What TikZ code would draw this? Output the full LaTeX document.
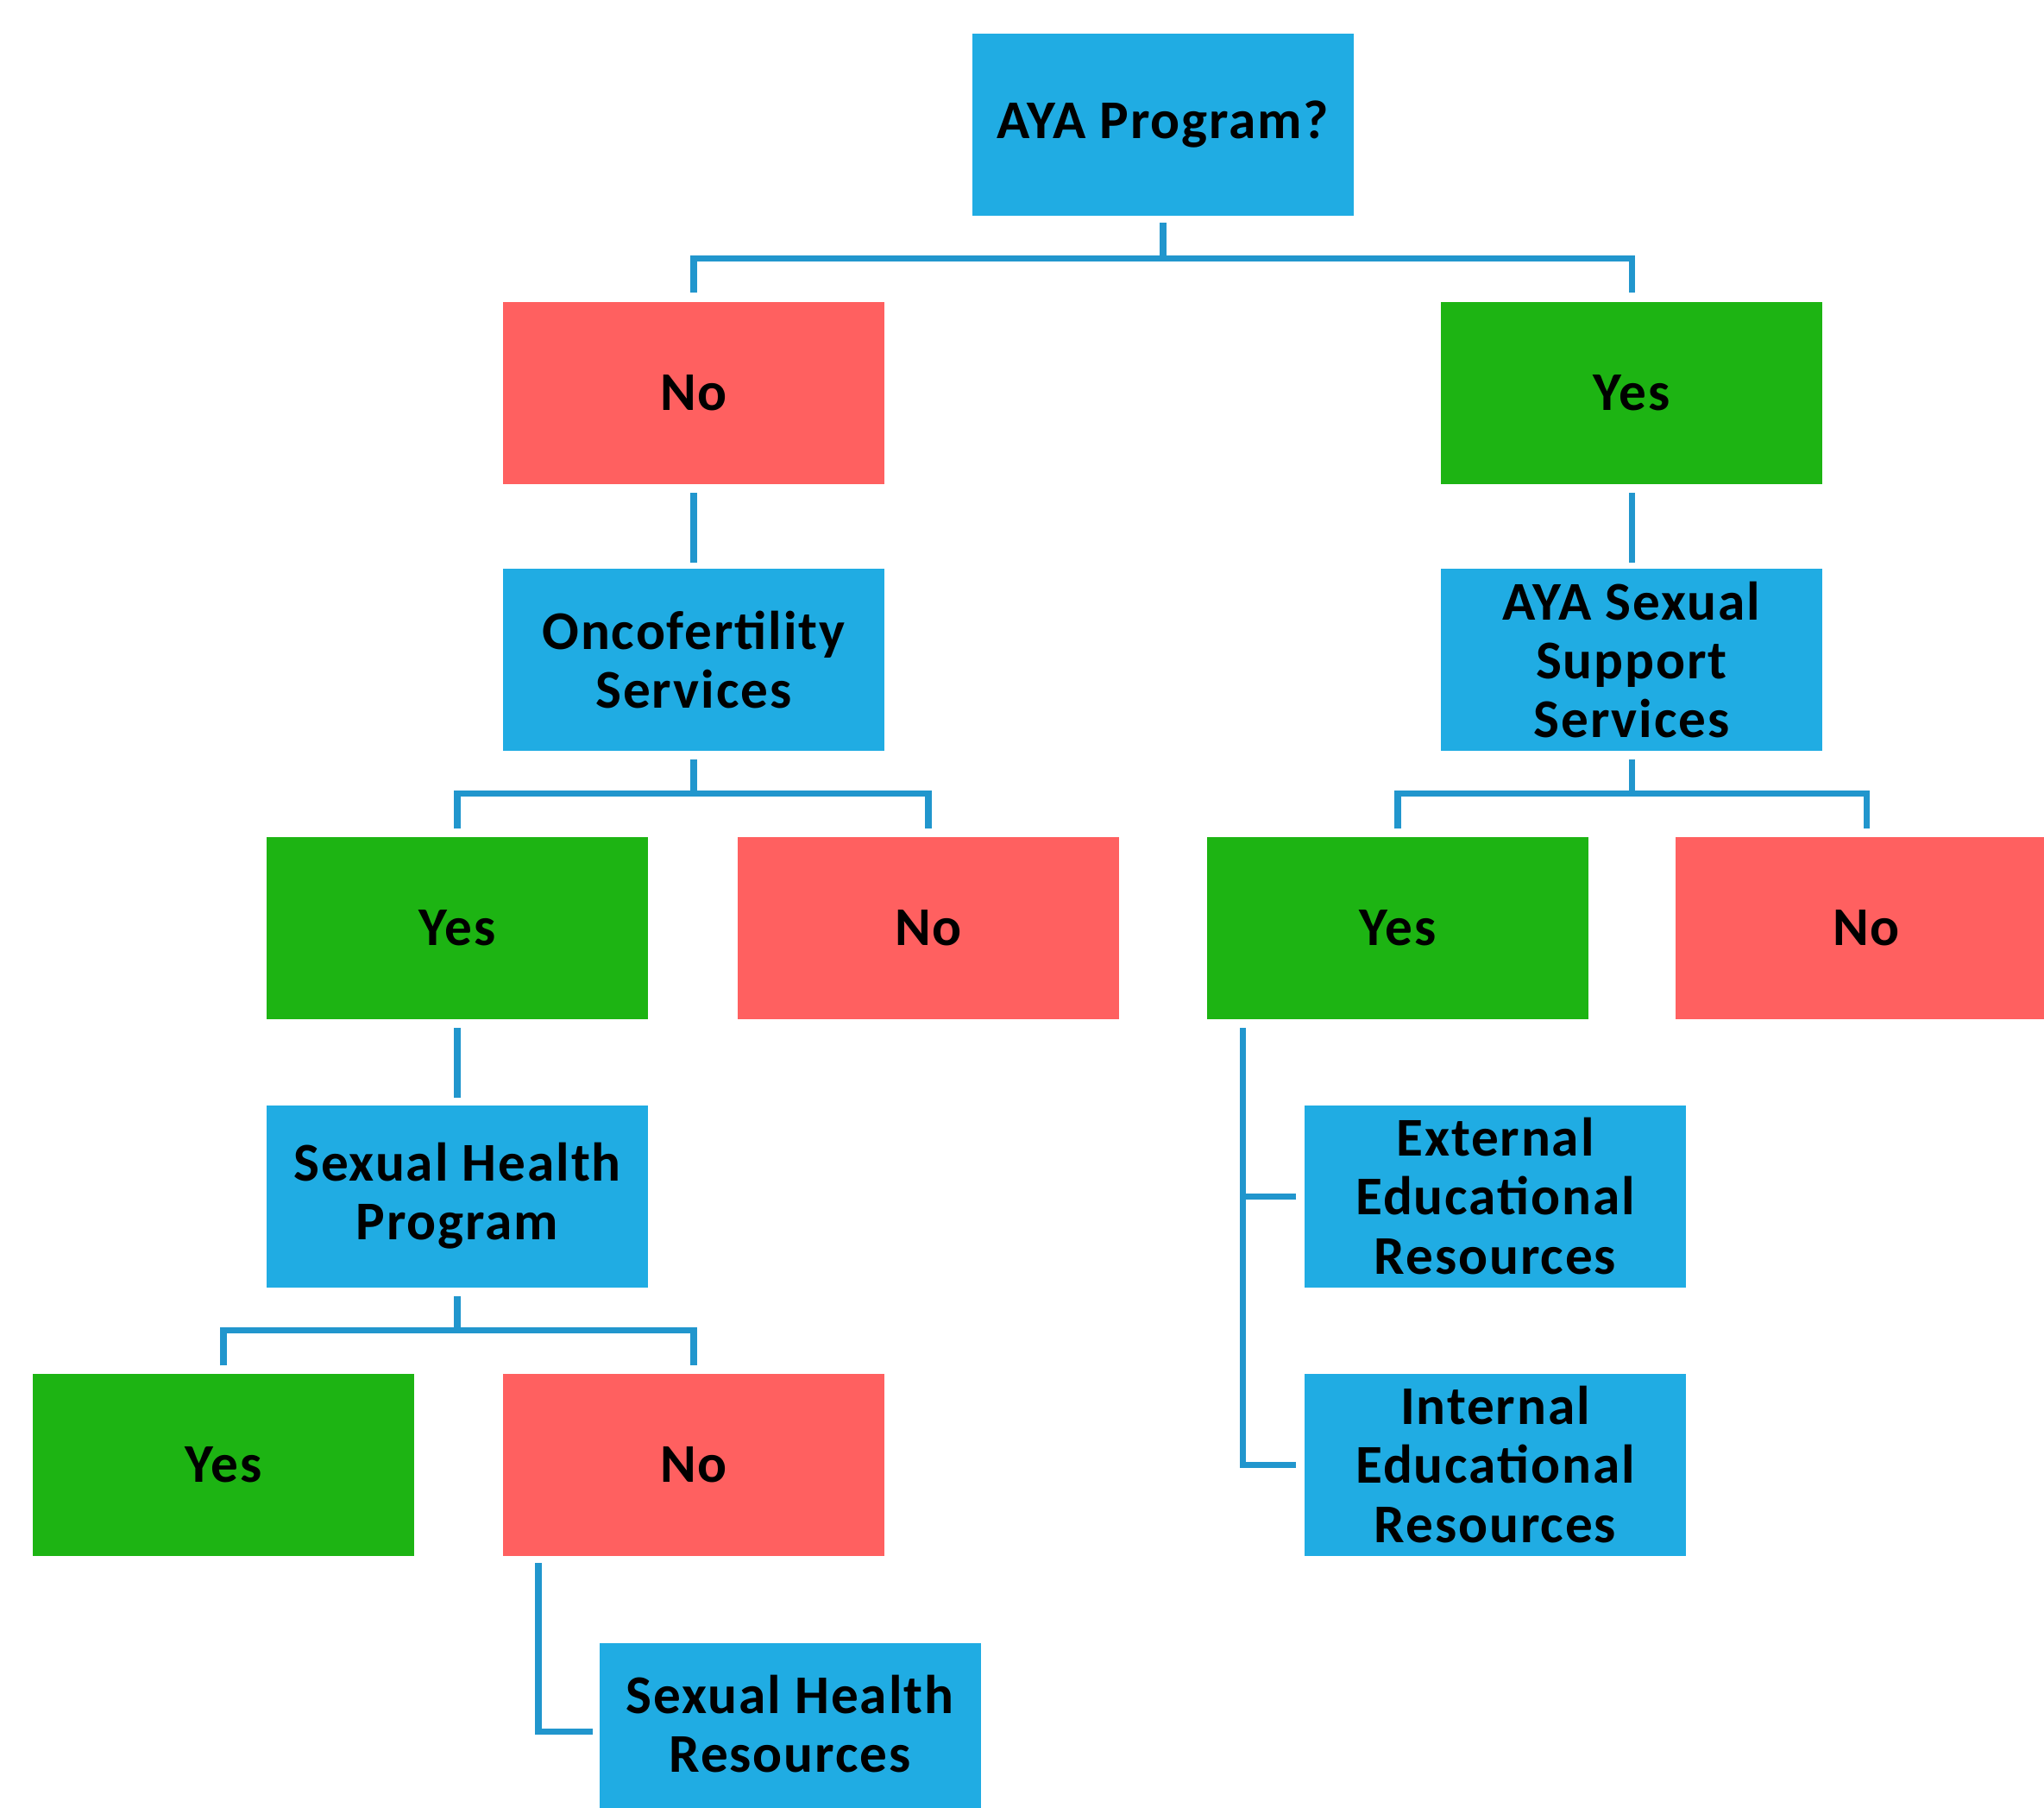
\documentclass[tikz,border=0pt]{standalone}
\usepackage{fontspec}
\newfontfamily\boxfont{Carlito}[LetterSpace=3]
\definecolor{boxblue}{RGB}{32,172,227}
\definecolor{boxred}{RGB}{255,96,96}
\definecolor{boxgreen}{RGB}{29,180,19}
\definecolor{lineblue}{RGB}{33,150,205}
\tikzset{
 box/.style={rectangle, minimum width=4.42cm, minimum height=2.11cm, inner sep=0pt, align=center,
   font=\boxfont\bfseries\fontsize{18}{19.4}\selectfont, text=black},
 bluebox/.style={box, fill=boxblue},
 redbox/.style={box, fill=boxred},
 greenbox/.style={box, fill=boxgreen},
 conn/.style={draw=lineblue, line width=2pt, line join=miter}
}
\begin{document}
\begin{tikzpicture}
\clip (0,0) rectangle (23.69,-20.95);
\fill[white] (0,0) rectangle (23.69,-20.95);
\node[bluebox] (aya) at (13.48,-1.44) {AYA Program?};
\node[redbox] (no1) at (8.04,-4.55) {No};
\node[greenbox] (yes1) at (18.91,-4.55) {Yes};
\node[bluebox] (onco) at (8.04,-7.645) {Oncofertility\\Services};
\node[bluebox] (sup) at (18.91,-7.645) {AYA Sexual\\Support\\Services};
\node[greenbox] (yes2) at (5.30,-10.75) {Yes};
\node[redbox] (no2) at (10.76,-10.75) {No};
\node[greenbox] (yes3) at (16.20,-10.75) {Yes};
\node[redbox] (no3) at (21.63,-10.75) {No};
\node[bluebox] (shp) at (5.30,-13.86) {Sexual Health\\Program};
\node[bluebox] (ext) at (17.33,-13.86) {External\\Educational\\Resources};
\node[greenbox] (yes4) at (2.59,-16.97) {Yes};
\node[redbox] (no4) at (8.04,-16.97) {No};
\node[bluebox] (int) at (17.33,-16.97) {Internal\\Educational\\Resources};
\node[bluebox, text depth=0.25cm] (shr) at (9.155,-20.095) {Sexual Health\\Resources};

\draw[conn] ([yshift=-.08cm]aya.south) -- ([yshift=-.49cm]aya.south);
\draw[conn] ([yshift=.10cm]no1.north) |- ([yshift=-.49cm]aya.south) -| ([yshift=.10cm]yes1.north);
\draw[conn] ([yshift=-.10cm]no1.south) -- ([yshift=.06cm]onco.north);
\draw[conn] ([yshift=-.10cm]yes1.south) -- ([yshift=.06cm]sup.north);
\draw[conn] ([yshift=-.09cm]onco.south) -- ([yshift=-.485cm]onco.south);
\draw[conn] ([yshift=.085cm]yes2.north) |- ([yshift=-.485cm]onco.south) -| ([yshift=.085cm]no2.north);
\draw[conn] ([yshift=-.09cm]sup.south) -- ([yshift=-.485cm]sup.south);
\draw[conn] ([yshift=.085cm]yes3.north) |- ([yshift=-.485cm]sup.south) -| ([yshift=.085cm]no3.north);
\draw[conn] ([yshift=-.10cm]yes2.south) -- ([yshift=.08cm]shp.north);
\draw[conn] ([yshift=-.10cm]shp.south) -- ([yshift=-.495cm]shp.south);
\draw[conn] ([yshift=.085cm]yes4.north) |- ([yshift=-.495cm]shp.south) -| ([yshift=.085cm]no4.north);
\draw[conn] ([xshift=-1.80cm,yshift=-.08cm]no4.south) |- ([xshift=-.07cm,yshift=.035cm]shr.west);
\coordinate (trunk) at ([xshift=.42cm,yshift=-.10cm]yes3.south west);
\draw[conn] (trunk) |- ([xshift=-.09cm]int.west);
\draw[conn] ([xshift=-.09cm]ext.west) -- (ext.west -| trunk);
\end{tikzpicture}
\end{document}
